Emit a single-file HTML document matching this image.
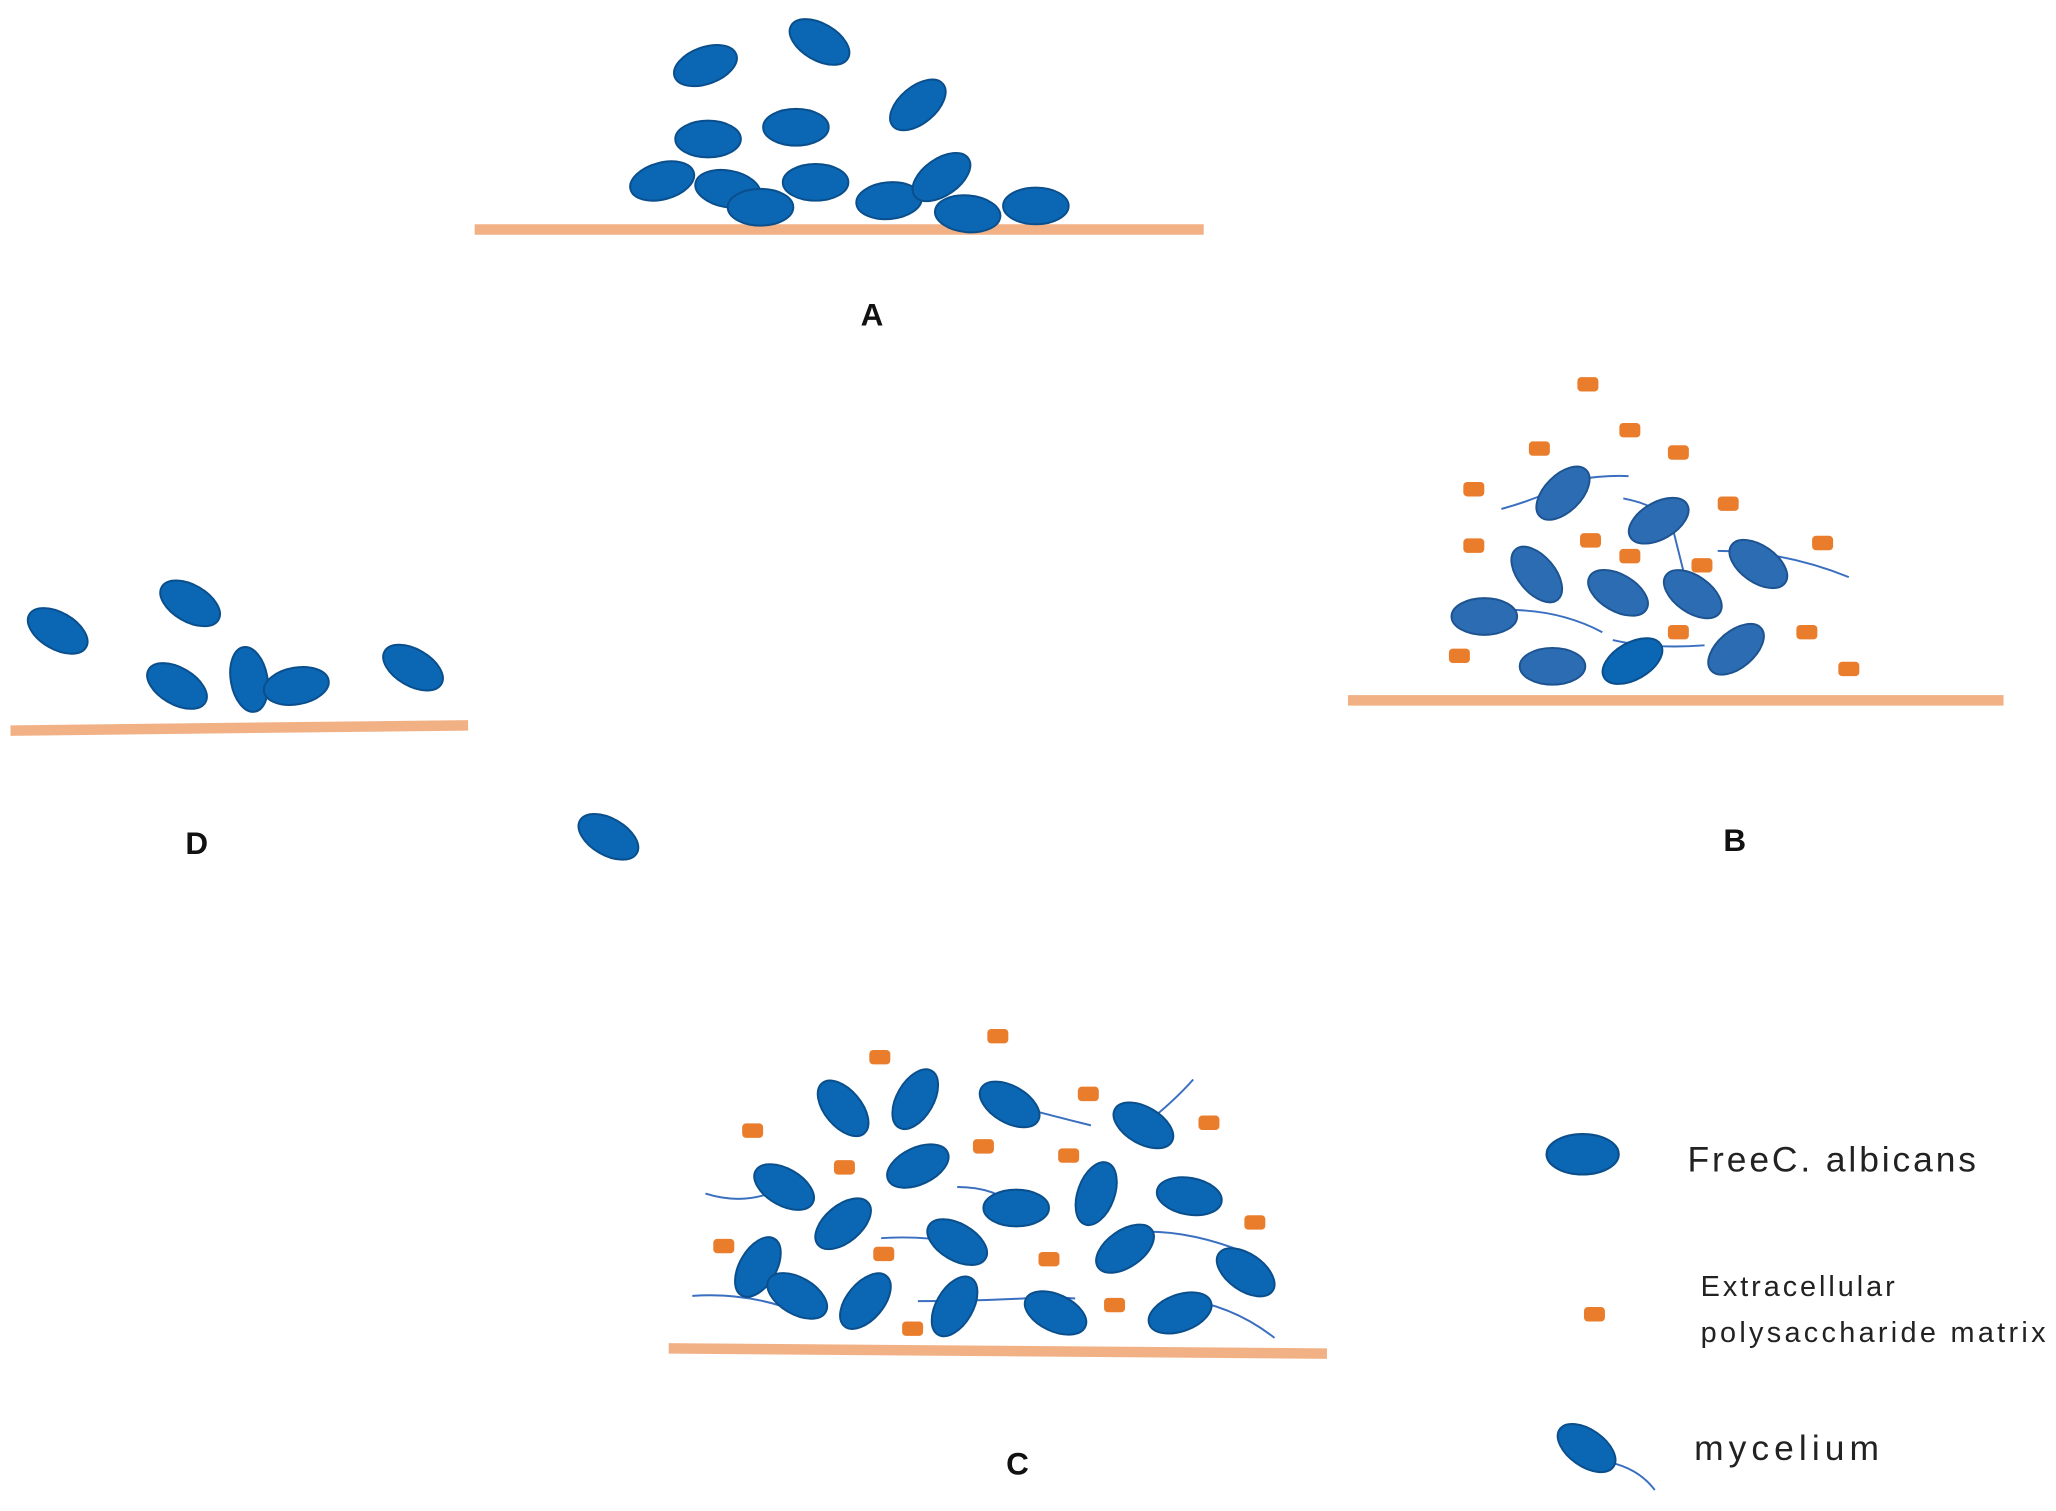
<!DOCTYPE html>
<html><head><meta charset="utf-8"><style>
html,body{margin:0;padding:0;background:#fff;}
svg{display:block;}
text{font-family:"Liberation Sans","DejaVu Sans",sans-serif;}
</style></head><body>
<svg width="2056" height="1511" viewBox="0 0 1568 1152" preserveAspectRatio="none" xmlns="http://www.w3.org/2000/svg">
<defs>
<g id="e"><ellipse cx="0" cy="0" rx="25" ry="14" fill="#0b66b4" stroke="#0a4f8c" stroke-width="1.5"/></g>
<g id="eb"><ellipse cx="0" cy="0" rx="25" ry="14" fill="#2c6cb2" stroke="#1d5390" stroke-width="1.5"/></g>
<rect id="s" x="-8" y="-5.5" width="16" height="11" rx="3" fill="#ea7d2c"/>
</defs>
<g stroke="#f1b185" stroke-width="8" stroke-linecap="butt">
<line x1="362" y1="175" x2="918" y2="175"/>
<line x1="8" y1="557" x2="357" y2="553"/>
<line x1="1028" y1="534" x2="1528" y2="534"/>
<line x1="510" y1="1028" x2="1012" y2="1032"/>
</g>
<use href="#e" transform="translate(538,50) rotate(-20)"/>
<use href="#e" transform="translate(625,32) rotate(30)"/>
<use href="#e" transform="translate(700,80) rotate(-40)"/>
<use href="#e" transform="translate(540,106)"/>
<use href="#e" transform="translate(607,97)"/>
<use href="#e" transform="translate(505,138) rotate(-15)"/>
<use href="#e" transform="translate(555,144) rotate(10)"/>
<use href="#e" transform="translate(580,158)"/>
<use href="#e" transform="translate(622,139)"/>
<use href="#e" transform="translate(678,153) rotate(-5)"/>
<use href="#e" transform="translate(718,135) rotate(-35)"/>
<use href="#e" transform="translate(738,163) rotate(5)"/>
<use href="#e" transform="translate(790,157)"/>
<use href="#e" transform="translate(44,481) rotate(30)"/>
<use href="#e" transform="translate(145,460) rotate(30)"/>
<use href="#e" transform="translate(135,523) rotate(30)"/>
<use href="#e" transform="translate(190,518) rotate(80)"/>
<use href="#e" transform="translate(226,523) rotate(-10)"/>
<use href="#e" transform="translate(315,509) rotate(30)"/>
<use href="#e" transform="translate(464,638) rotate(30)"/>
<g fill="none" stroke="#3a6fc0" stroke-width="1.5">
<path d="M1145,388 Q1175,380 1200,366 Q1225,362 1242,363"/>
<path d="M1238,380 Q1265,385 1275,400 Q1280,420 1285,440"/>
<path d="M1310,420 Q1360,420 1410,440"/>
<path d="M1150,465 Q1190,465 1222,482"/>
<path d="M1230,488 Q1260,495 1300,492"/>
</g>
<use href="#eb" transform="translate(1192,376) rotate(-45)"/>
<use href="#eb" transform="translate(1265,397) rotate(-30)"/>
<use href="#eb" transform="translate(1172,438) rotate(50)"/>
<use href="#eb" transform="translate(1234,452) rotate(30)"/>
<use href="#eb" transform="translate(1291,453) rotate(35)"/>
<use href="#eb" transform="translate(1341,430) rotate(35)"/>
<use href="#eb" transform="translate(1132,470)"/>
<use href="#eb" transform="translate(1184,508)"/>
<use href="#e" transform="translate(1245,504) rotate(-30)"/>
<use href="#eb" transform="translate(1324,495) rotate(-40)"/>
<use href="#s" x="1211" y="293"/><use href="#s" x="1243" y="328"/><use href="#s" x="1174" y="342"/>
<use href="#s" x="1280" y="345"/><use href="#s" x="1124" y="373"/><use href="#s" x="1318" y="384"/>
<use href="#s" x="1124" y="416"/><use href="#s" x="1213" y="412"/><use href="#s" x="1243" y="424"/>
<use href="#s" x="1298" y="431"/><use href="#s" x="1390" y="414"/><use href="#s" x="1280" y="482"/>
<use href="#s" x="1378" y="482"/><use href="#s" x="1113" y="500"/><use href="#s" x="1410" y="510"/>
<g fill="none" stroke="#3a6fc0" stroke-width="1.5">
<path d="M538,910 Q570,920 598,905"/>
<path d="M770,842 Q800,850 832,858"/>
<path d="M872,858 Q895,840 910,823"/>
<path d="M730,905 Q760,905 775,921"/>
<path d="M672,944 Q700,942 730,947"/>
<path d="M858,940 Q900,935 950,955"/>
<path d="M528,988 Q570,985 608,1000"/>
<path d="M700,992 Q740,992 780,990 Q800,988 820,990"/>
<path d="M900,990 Q940,995 972,1020"/>
</g>
<use href="#e" transform="translate(643,845) rotate(50)"/>
<use href="#e" transform="translate(698,838) rotate(-60)"/>
<use href="#e" transform="translate(770,842) rotate(30)"/>
<use href="#e" transform="translate(872,858) rotate(30)"/>
<use href="#e" transform="translate(598,905) rotate(30)"/>
<use href="#e" transform="translate(700,889) rotate(-25)"/>
<use href="#e" transform="translate(775,921)"/>
<use href="#e" transform="translate(836,910) rotate(-70)"/>
<use href="#e" transform="translate(907,912) rotate(10)"/>
<use href="#e" transform="translate(643,933) rotate(-40)"/>
<use href="#e" transform="translate(730,947) rotate(30)"/>
<use href="#e" transform="translate(858,952) rotate(-35)"/>
<use href="#e" transform="translate(950,970) rotate(35)"/>
<use href="#e" transform="translate(578,966) rotate(-60)"/>
<use href="#e" transform="translate(608,988) rotate(30)"/>
<use href="#e" transform="translate(660,992) rotate(-50)"/>
<use href="#e" transform="translate(728,996) rotate(-60)"/>
<use href="#e" transform="translate(805,1001) rotate(25)"/>
<use href="#e" transform="translate(900,1001) rotate(-20)"/>
<use href="#s" x="761" y="790"/><use href="#s" x="671" y="806"/><use href="#s" x="830" y="834"/>
<use href="#s" x="574" y="862"/><use href="#s" x="922" y="856"/><use href="#s" x="644" y="890"/>
<use href="#s" x="750" y="874"/><use href="#s" x="815" y="881"/><use href="#s" x="957" y="932"/>
<use href="#s" x="552" y="950"/><use href="#s" x="674" y="956"/><use href="#s" x="800" y="960"/>
<use href="#s" x="850" y="995"/><use href="#s" x="696" y="1013"/>
<g font-weight="bold" font-size="24" fill="#111" text-anchor="middle">
<text x="665" y="248">A</text>
<text x="150" y="651">D</text>
<text x="1323" y="649">B</text>
<text x="776" y="1124">C</text>
</g>
<use href="#e" transform="translate(1207,880) scale(1.1)"/>
<text x="1287" y="893" font-size="27" fill="#222" textLength="220">FreeC. albicans</text>
<use href="#s" x="1216" y="1002"/>
<text x="1297" y="988" font-size="22" fill="#222" textLength="148">Extracellular</text>
<text x="1297" y="1023" font-size="22" fill="#222" textLength="263">polysaccharide matrix</text>
<path d="M1228,1115 Q1250,1120 1262,1136" fill="none" stroke="#3a6fc0" stroke-width="1.5"/>
<use href="#e" transform="translate(1210,1104) rotate(35)"/>
<text x="1292" y="1113" font-size="27" fill="#222" textLength="141">mycelium</text>
</svg>
</body></html>
